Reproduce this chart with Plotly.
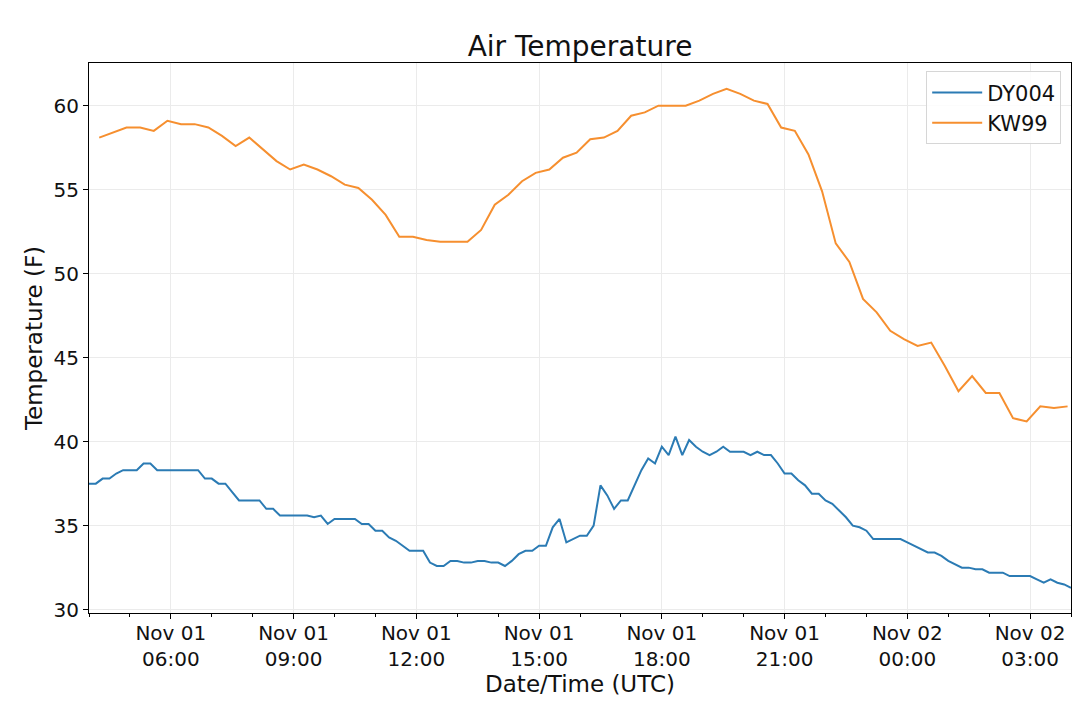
"""
Air Temperature
===============
Line chart comparing the air temperature at two stations (DY004, KW99)
over one day, drawn in a matplotlib-like style with Plotly.
"""

from typing import List

import pandas as pd
import plotly.graph_objects as go


# DY004 reports every 10 minutes, KW99 every 20 minutes
DY004_START = "2019-11-01 04:00"
DY004_FREQ = "10min"
DY004_TEMPS = [
    37.5, 37.5, 37.8, 37.8, 38.1, 38.3, 38.3, 38.3, 38.7, 38.7,
    38.3, 38.3, 38.3, 38.3, 38.3, 38.3, 38.3, 37.8, 37.8, 37.5,
    37.5, 37.0, 36.5, 36.5, 36.5, 36.5, 36.0, 36.0, 35.6, 35.6,
    35.6, 35.6, 35.6, 35.5, 35.6, 35.1, 35.4, 35.4, 35.4, 35.4,
    35.1, 35.1, 34.7, 34.7, 34.3, 34.1, 33.8, 33.5, 33.5, 33.5,
    32.8, 32.6, 32.6, 32.9, 32.9, 32.8, 32.8, 32.9, 32.9, 32.8,
    32.8, 32.6, 32.9, 33.3, 33.5, 33.5, 33.8, 33.8, 34.9, 35.4,
    34.0, 34.2, 34.4, 34.4, 35.0, 37.4, 36.8, 36.0, 36.5, 36.5,
    37.4, 38.3, 39.0, 38.7, 39.7, 39.2, 40.3, 39.2, 40.1, 39.7,
    39.4, 39.2, 39.4, 39.7, 39.4, 39.4, 39.4, 39.2, 39.4, 39.2,
    39.2, 38.7, 38.1, 38.1, 37.7, 37.4, 36.9, 36.9, 36.5, 36.3,
    35.9, 35.5, 35.0, 34.9, 34.7, 34.2, 34.2, 34.2, 34.2, 34.2,
    34.0, 33.8, 33.6, 33.4, 33.4, 33.2, 32.9, 32.7, 32.5, 32.5,
    32.4, 32.4, 32.2, 32.2, 32.2, 32.0, 32.0, 32.0, 32.0, 31.8,
    31.6, 31.8, 31.6, 31.5, 31.3,
]

KW99_START = "2019-11-01 04:15"
KW99_FREQ = "20min"
KW99_TEMPS = [
    58.1, 58.4, 58.7, 58.7, 58.5, 59.1, 58.9, 58.9, 58.7, 58.2,
    57.6, 58.1, 57.4, 56.7, 56.2, 56.5, 56.2, 55.8, 55.3, 55.1,
    54.4, 53.5, 52.2, 52.2, 52.0, 51.9, 51.9, 51.9, 52.6, 54.1,
    54.7, 55.5, 56.0, 56.2, 56.9, 57.2, 58.0, 58.1, 58.5, 59.4,
    59.6, 60.0, 60.0, 60.0, 60.3, 60.7, 61.0, 60.7, 60.3, 60.1,
    58.7, 58.5, 57.1, 54.9, 51.8, 50.7, 48.5, 47.7, 46.6, 46.1,
    45.7, 45.9, 44.5, 43.0, 43.9, 42.9, 42.9, 41.4, 41.2, 42.1,
    42.0, 42.1,
]

TICK_TIMES = [
    "2019-11-01 06:00", "2019-11-01 09:00", "2019-11-01 12:00",
    "2019-11-01 15:00", "2019-11-01 18:00", "2019-11-01 21:00",
    "2019-11-02 00:00", "2019-11-02 03:00",
]
TICK_LABELS = [
    "Nov 01<br>06:00", "Nov 01<br>09:00", "Nov 01<br>12:00",
    "Nov 01<br>15:00", "Nov 01<br>18:00", "Nov 01<br>21:00",
    "Nov 02<br>00:00", "Nov 02<br>03:00",
]
Y_TICKS = [30, 35, 40, 45, 50, 55, 60]

COLORS = {"DY004": "#2b7bb4", "KW99": "#f68f2f"}
FONT = "DejaVu Sans"
GRID = "#ebebeb"
TEXT = "#111111"

# the page body keeps its default 8px margin, so the figure is sized to fit
FIG_W, FIG_H = 1072, 695


def station_times(start: str, freq: str, count: int) -> List[pd.Timestamp]:
    """Observation times for a station with a fixed reporting interval."""
    return list(pd.date_range(start=start, periods=count, freq=freq))


def create_line_chart() -> go.Figure:
    """Build the two-station temperature chart."""
    fig = go.Figure()

    fig.add_trace(go.Scatter(
        x=station_times(DY004_START, DY004_FREQ, len(DY004_TEMPS)),
        y=DY004_TEMPS,
        mode="lines",
        name="DY004",
        line=dict(color=COLORS["DY004"], width=2),
    ))
    fig.add_trace(go.Scatter(
        x=station_times(KW99_START, KW99_FREQ, len(KW99_TEMPS)),
        y=KW99_TEMPS,
        mode="lines",
        name="KW99",
        line=dict(color=COLORS["KW99"], width=2),
    ))

    axis_common = dict(
        automargin=False,
        showline=True,
        linecolor="black",
        linewidth=1,
        mirror=True,
        ticks="outside",
        tickcolor="black",
        ticklen=5,
        showgrid=True,
        gridcolor=GRID,
        gridwidth=1,
        zeroline=False,
        tickfont=dict(family=FONT, size=20, color=TEXT),
    )

    fig.update_layout(
        width=FIG_W,
        height=FIG_H,
        margin=dict(l=81, r=9, t=55, b=90),
        plot_bgcolor="#ffffff",
        paper_bgcolor="#ffffff",
        font=dict(family=FONT, color=TEXT),
        title=dict(
            text="Air Temperature",
            x=0.5,
            xref="paper",
            xanchor="center",
            y=1 - 38 / FIG_H,
            yanchor="middle",
            font=dict(family=FONT, size=28, color=TEXT),
        ),
        xaxis=dict(
            **axis_common,
            type="date",
            range=["2019-11-01 04:00", "2019-11-02 04:00"],
            tickmode="array",
            tickvals=TICK_TIMES,
            ticktext=TICK_LABELS,
            ticklabelstandoff=-3,
            minor=dict(
                ticks="outside",
                ticklen=3,
                tickcolor="black",
                dtick=3600000,
                tick0="2019-11-01 04:00",
                showgrid=False,
            ),
            title=dict(
                text="Date/Time (UTC)",
                font=dict(family=FONT, size=23, color=TEXT),
                standoff=1,
            ),
        ),
        yaxis=dict(
            **axis_common,
            range=[29.8, 62.54],
            tickmode="array",
            tickvals=Y_TICKS,
            title=dict(
                text="Temperature (F)",
                font=dict(family=FONT, size=23, color=TEXT),
                standoff=4,
            ),
        ),
        legend=dict(
            x=0.99,
            y=0.985,
            xanchor="right",
            yanchor="top",
            bgcolor="rgba(255,255,255,0.85)",
            bordercolor="#d6d6d6",
            borderwidth=1,
            itemwidth=50,
            font=dict(family=FONT, size=21, color=TEXT),
        ),
        showlegend=True,
    )

    return fig


if __name__ == "__main__":
    fig = create_line_chart()
    fig.write_html("out.html")
